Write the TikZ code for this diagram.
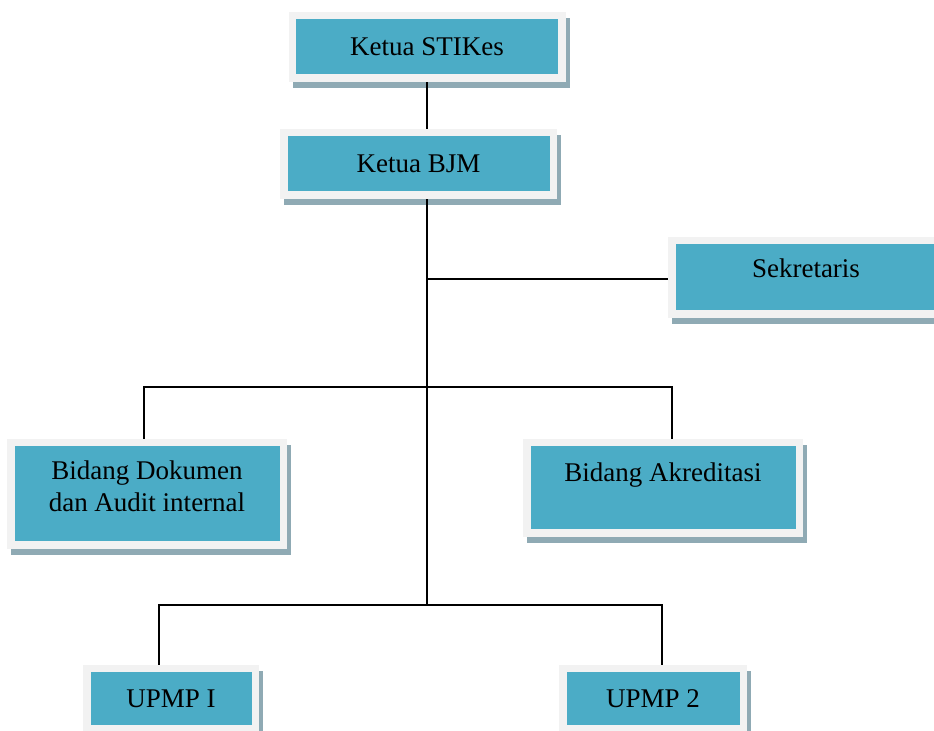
\documentclass[tikz,border=0pt]{standalone}
\usepackage{fontspec}
\setmainfont{Liberation Serif}
\usetikzlibrary{shadows}
\definecolor{kotak}{HTML}{4BACC6}
\definecolor{bingkai}{HTML}{F2F2F2}
\definecolor{bayangan}{HTML}{8FAAB4}
\tikzset{
  unit/.style={fill=bingkai, inner sep=0pt, minimum width=#1, align=center,
    font=\fontsize{13.5pt}{16pt}\selectfont,
    path picture={\fill[kotak] ([shift={(3.75pt,3.75pt)}]path picture bounding box.south west)
      rectangle ([shift={(-3.75pt,-3.75pt)}]path picture bounding box.north east);},
    drop shadow={shadow xshift=2pt, shadow yshift=-3pt, fill=bayangan, opacity=1}},
  garis/.style={line width=0.9pt, black}
}
\begin{document}
\begin{tikzpicture}[x=0.5pt, y=-0.5pt]
    \useasboundingbox (0,0) rectangle (934,731);

    % Pimpinan
    \node[unit=138.5pt, minimum height=35pt] (stikes) at (427,47) {Ketua STIKes};
    \node[unit=138.5pt, minimum height=35pt] (bjm) at (418.5,164) {Ketua BJM};
    \node[unit=138pt, text height=20.5pt, text depth=20pt] (sek) at (806,277.5) {Sekretaris};

    % Bidang
    \node[unit=140pt, text height=36.5pt, text depth=18.5pt] (dok) at (147,494) {Bidang Dokumen\\dan Audit internal};
    \node[unit=140pt, text height=21.5pt, text depth=27.5pt] (akr) at (663,488) {Bidang Akreditasi};

    % UPMP
    \node[unit=88pt, minimum height=34pt] (upmp1) at (171,699) {UPMP I};
    \node[unit=94pt, minimum height=34pt] (upmp2) at (653,699) {UPMP 2};

    % Garis
    \coordinate (j1) at (427,279);
    \coordinate (j2) at (427,387);
    \coordinate (j3) at (427,605);
    \draw[garis] (stikes.south) -- (bjm.north -| stikes.south);
    \draw[garis] (bjm.south -| stikes.south) -- (j3);
    \draw[garis] (j1) -- (j1 -| sek.west);
    \draw[garis] ([xshift=-1.5pt]dok.north) |- (j2) -| ([xshift=4.5pt]akr.north);
    \draw[garis] ([xshift=-6pt]upmp1.north) |- (j3) -| ([xshift=4.5pt]upmp2.north);
\end{tikzpicture}
\end{document}
